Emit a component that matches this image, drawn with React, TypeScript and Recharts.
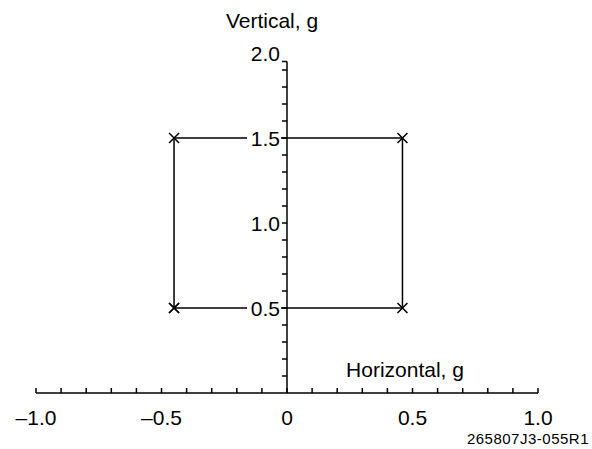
import React from 'react';
import { ScatterChart, Scatter, XAxis, YAxis, ReferenceLine } from 'recharts';

// corners of the box, walked in drawing order (last one closes it)
const boxPoints = [
  { x: -0.45, y: 0.5 },
  { x: -0.45, y: 1.5 },
  { x: 0.46, y: 1.5 },
  { x: 0.46, y: 0.5 },
  { x: -0.45, y: 0.5 },
];

const xTickValues = [-1.0, -0.9, -0.8, -0.7, -0.6, -0.5, -0.4, -0.3, -0.2, -0.1, 0, 0.1, 0.2, 0.3, 0.4, 0.5, 0.6, 0.7, 0.8, 0.9, 1.0];
const xTickLabels = [
  { x: -1.0, label: '–1.0' },
  { x: -0.5, label: '–0.5' },
  { x: 0, label: '0' },
  { x: 0.5, label: '0.5' },
  { x: 1.0, label: '1.0' },
];

const yTickValues = [0.1, 0.2, 0.3, 0.4, 0.5, 0.6, 0.7, 0.8, 0.9, 1.0, 1.1, 1.2, 1.3, 1.4, 1.5, 1.6, 1.7, 1.8, 1.9];
const yAxisTop = 1.95;
const yTickLabels = [
  { y: 0.5, label: '0.5' },
  { y: 1.0, label: '1.0' },
  { y: 1.5, label: '1.5' },
  { y: 2.0, label: '2.0' },
];

const FONT = '"Liberation Sans", Arial, Helvetica, sans-serif';

const xTickData = xTickValues.map((x) => ({ x, y: 0 }));
const yTickData = [...yTickValues, yAxisTop].map((y) => ({ x: 0, y }));
const xLabelData = xTickLabels.map((t) => ({ x: t.x, y: 0, label: t.label }));
const yLabelData = yTickLabels.map((t) => ({ x: 0, y: t.y, label: t.label }));

const Cross = (props: any) => {
  const { cx, cy } = props;
  const s = 5;
  return (
    <path
      d={`M${cx - s},${cy - s}L${cx + s},${cy + s}M${cx - s},${cy + s}L${cx + s},${cy - s}`}
      stroke="#000"
      strokeWidth={1.5}
      fill="none"
    />
  );
};

// x ticks point up from the axis
const XTick = (props: any) => {
  const { cx, cy } = props;
  return <line x1={cx} y1={cy} x2={cx} y2={cy - 5} stroke="#000" strokeWidth={1.5} />;
};

const XLabel = (props: any) => {
  const { cx, cy, payload } = props;
  return (
    <text x={cx} y={cy + 32} textAnchor="middle" fontSize={21} fontFamily={FONT} fill="#000">
      {payload.label}
    </text>
  );
};

// y ticks point left from the axis
const YTick = (props: any) => {
  const { cx, cy } = props;
  return <line x1={cx} y1={cy} x2={cx - 5} y2={cy} stroke="#000" strokeWidth={1.5} />;
};

// labels sit on a white patch so the box lines stop at them
const YLabel = (props: any) => {
  const { cx, cy, payload } = props;
  return (
    <g>
      <rect x={cx - 40} y={cy - 9} width={34} height={18} fill="#fff" />
      <text x={cx - 7} y={cy + 7.5} textAnchor="end" fontSize={21} fontFamily={FONT} fill="#000">
        {payload.label}
      </text>
    </g>
  );
};

export default function App() {
  return (
    <div style={{ position: 'absolute', left: 0, top: 0, width: 592, height: 449, background: '#fff' }}>
      <ScatterChart width={592} height={449} margin={{ top: 53, right: 54, bottom: 56, left: 36 }}>
        <XAxis type="number" dataKey="x" domain={[-1, 1]} hide />
        <YAxis type="number" dataKey="y" domain={[0, 2]} hide />
        <ReferenceLine segment={[{ x: -1, y: 0 }, { x: 1, y: 0 }]} stroke="#000" strokeWidth={1.5} ifOverflow="visible" />
        <ReferenceLine segment={[{ x: 0, y: 0 }, { x: 0, y: yAxisTop }]} stroke="#000" strokeWidth={1.5} ifOverflow="visible" />
        <Scatter
          data={boxPoints}
          line={{ stroke: '#000', strokeWidth: 1.5 }}
          lineType="joint"
          shape={<Cross />}
          isAnimationActive={false}
        />
        <Scatter data={xTickData} shape={<XTick />} isAnimationActive={false} />
        <Scatter data={xLabelData} shape={<XLabel />} isAnimationActive={false} />
        <Scatter data={yTickData} shape={<YTick />} isAnimationActive={false} />
        <Scatter data={yLabelData} shape={<YLabel />} isAnimationActive={false} />
      </ScatterChart>
      <svg width={592} height={449} style={{ position: 'absolute', left: 0, top: 0, pointerEvents: 'none' }}>
        <text x={272} y={28} textAnchor="middle" fontSize={21} fontFamily={FONT} fill="#000">
          Vertical, g
        </text>
        <text x={405} y={377} textAnchor="middle" fontSize={21} fontFamily={FONT} fill="#000">
          Horizontal, g
        </text>
        <text x={589} y={444} textAnchor="end" fontSize={15} fontFamily={FONT} fill="#000" letterSpacing={0.5}>
          265807J3-055R1
        </text>
      </svg>
    </div>
  );
}
